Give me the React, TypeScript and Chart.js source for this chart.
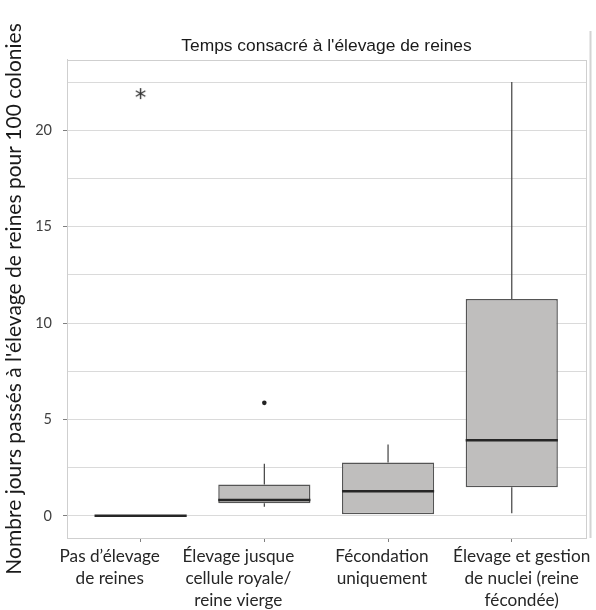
import React, { useEffect, useRef } from "react";
import { Chart, registerables } from "chart.js";

Chart.register(...registerables);

// ---- data ----
const CATEGORIES: string[][] = [
  ["Pas d’élevage", "de reines"],
  ["Élevage jusque", "cellule royale/", "reine vierge"],
  ["Fécondation", "uniquement"],
  ["Élevage et gestion", "de nuclei (reine", "fécondée)"],
];
const WHISKER_LOW = [0, 0.47, 0.08, 0.13];
const Q1 = [0, 0.65, 0.08, 1.48];
const MEDIAN = [0, 0.82, 1.27, 3.92];
const Q3 = [0, 1.62, 2.76, 11.25];
const WHISKER_HIGH = [0, 2.7, 3.7, 22.5];
const OUTLIER_STAR = [{ cat: 0, value: 21.9 }];
const OUTLIER_DOT = [{ cat: 1, value: 5.86 }];
const Y_TICKS = [0, 2.5, 5, 7.5, 10, 12.5, 15, 17.5, 20, 22.5];
const Y_LABELED = [0, 5, 10, 15, 20];

const TITLE = "Temps consacré à l'élevage de reines";
const Y_TITLE = "Nombre jours passés à l'élevage de reines pour 100 colonies";

// layout-only: horizontal offset of each category label (in category units)
const LABEL_SHIFT = [-0.25, -0.21, -0.05, 0.08];

function makeAsterisk(): HTMLCanvasElement {
  const c = document.createElement("canvas");
  c.width = 13;
  c.height = 13;
  const g = c.getContext("2d")!;
  g.strokeStyle = "#333333";
  g.lineWidth = 1.4;
  const r = 5.5;
  for (let k = 0; k < 3; k++) {
    const a = Math.PI / 2 + (k * Math.PI) / 3;
    g.beginPath();
    g.moveTo(6.5 - r * Math.cos(a), 6.5 - r * Math.sin(a));
    g.lineTo(6.5 + r * Math.cos(a), 6.5 + r * Math.sin(a));
    g.stroke();
  }
  return c;
}

const boxPlugin = {
  id: "boxWhiskers",
  afterDatasetsDraw(chart: any) {
    const meta = chart.getDatasetMeta(0);
    const y = chart.scales.y;
    const ctx = chart.ctx;
    ctx.save();
    meta.data.forEach((el: any, i: number) => {
      const x = el.x;
      const w = el.width;
      ctx.strokeStyle = "#404040";
      ctx.lineWidth = 1.2;
      if (WHISKER_HIGH[i] > Q3[i]) {
        ctx.beginPath();
        ctx.moveTo(x, y.getPixelForValue(Q3[i]));
        ctx.lineTo(x, y.getPixelForValue(WHISKER_HIGH[i]));
        ctx.stroke();
      }
      if (WHISKER_LOW[i] < Q1[i]) {
        ctx.beginPath();
        ctx.moveTo(x, y.getPixelForValue(Q1[i]));
        ctx.lineTo(x, y.getPixelForValue(WHISKER_LOW[i]));
        ctx.stroke();
      }
      ctx.strokeStyle = "#262626";
      ctx.lineWidth = 2.5;
      const my = y.getPixelForValue(MEDIAN[i]);
      ctx.beginPath();
      ctx.moveTo(x - w / 2, my);
      ctx.lineTo(x + w / 2, my);
      ctx.stroke();
    });
    ctx.restore();
  },
  beforeDatasetsDraw(chart: any) {
    const { ctx, chartArea } = chart;
    ctx.save();
    ctx.strokeStyle = "#cfcfcf";
    ctx.lineWidth = 1;
    ctx.strokeRect(
      Math.round(chartArea.left) + 0.5,
      Math.round(chartArea.top) + 0.5,
      Math.round(chartArea.right - chartArea.left),
      Math.round(chartArea.bottom - chartArea.top)
    );
    ctx.strokeStyle = "#d4d4d4";
    ctx.lineWidth = 2;
    ctx.beginPath();
    ctx.moveTo(chartArea.right + 4.5, chartArea.top - 29);
    ctx.lineTo(chartArea.right + 4.5, chartArea.bottom);
    ctx.stroke();
    ctx.restore();
  },
};

export default function App() {
  const ref = useRef<HTMLCanvasElement | null>(null);
  useEffect(() => {
    if (!ref.current) return;
    const chart = new Chart(ref.current, {
      type: "bar",
      data: {
        datasets: [
          {
            type: "bar",
            data: CATEGORIES.map((_, i) => ({ x: i, y: [Q1[i], Q3[i]] })) as any,
            backgroundColor: "#bfbebd",
            borderColor: "#555555",
            borderWidth: 1.5,
            borderSkipped: false,
            categoryPercentage: 1,
            barPercentage: 0.745,
            xAxisID: "x",
            yAxisID: "y",
          } as any,
          {
            type: "line",
            data: OUTLIER_STAR.map((o) => ({ x: o.cat, y: o.value })),
            showLine: false,
            pointStyle: makeAsterisk(),
            pointRadius: 6,
            xAxisID: "x",
            yAxisID: "y",
          } as any,
          {
            type: "line",
            data: OUTLIER_DOT.map((o) => ({ x: o.cat, y: o.value })),
            showLine: false,
            pointStyle: "circle",
            pointRadius: 2.3,
            backgroundColor: "#222222",
            borderColor: "#222222",
            borderWidth: 0,
            xAxisID: "x",
            yAxisID: "y",
          } as any,
        ],
      },
      options: {
        animation: false,
        responsive: false,
        devicePixelRatio: 1,
        layout: { padding: { left: 0, right: 10, top: 0, bottom: 0 } },
        plugins: {
          legend: { display: false },
          tooltip: { enabled: false },
          title: {
            display: true,
            text: TITLE,
            fullSize: false,
            color: "#1a1a1a",
            font: { family: "'Liberation Sans', Arial, sans-serif", size: 17.4, weight: "normal" },
            padding: { top: 36, bottom: 3 },
          },
        },
        scales: {
          x: {
            type: "linear",
            position: "bottom",
            offset: false,
            weight: 0,
            min: -0.595,
            max: 3.6,
            afterBuildTicks: (axis: any) => {
              axis.ticks = CATEGORIES.map((_, i) => ({ value: i }));
            },
            afterFit: (axis: any) => {
              axis.height = 4;
            },
            ticks: { display: false },
            grid: {
              offset: false,
              drawOnChartArea: false,
              drawTicks: true,
              tickLength: 4,
              tickColor: "#7f7f7f",
            },
            border: { color: "#cfcfcf" },
          },
          xl: {
            type: "linear",
            position: "bottom",
            offset: false,
            weight: 1,
            min: -0.595,
            max: 3.6,
            afterBuildTicks: (axis: any) => {
              axis.ticks = CATEGORIES.map((_, i) => ({ value: i + LABEL_SHIFT[i] }));
            },
            afterFit: (axis: any) => {
              axis.height = 68;
            },
            ticks: {
              autoSkip: false,
              maxRotation: 0,
              minRotation: 0,
              padding: 3,
              color: "#262626",
              font: { family: "Lato, 'Noto Sans', sans-serif", size: 17.2, lineHeight: 1.28 },
              callback: (_v: any, idx: number) => CATEGORIES[idx],
            },
            grid: { display: false, drawTicks: false, tickLength: 0, offset: false },
            border: { display: false },
          },
          y: {
            type: "linear",
            position: "left",
            min: -1.15,
            max: 23.65,
            afterBuildTicks: (axis: any) => {
              axis.ticks = Y_TICKS.map((v) => ({ value: v }));
            },
            afterFit: (axis: any) => {
              axis.width = 67;
            },
            ticks: {
              padding: 11,
              color: "#404040",
              font: { family: "Lato, 'Noto Sans', sans-serif", size: 14.5 },
              callback: (v: any) => (Y_LABELED.includes(Number(v)) ? String(v) : ""),
            },
            grid: {
              color: "#dadada",
              lineWidth: 1,
              tickLength: 4,
              tickColor: (c: any) =>
                c.tick && Y_LABELED.includes(c.tick.value) ? "#7f7f7f" : "rgba(0,0,0,0)",
            },
            border: { color: "#cfcfcf" },
            title: {
              display: true,
              text: Y_TITLE,
              color: "#1a1a1a",
              font: { family: "Lato, 'Noto Sans', sans-serif", size: 21 },
              padding: { top: 2, bottom: 0 },
            },
          },
        },
      } as any,
      plugins: [boxPlugin],
    });
    return () => chart.destroy();
  }, []);
  return (
    <div style={{ position: "absolute", left: 0, top: 0, width: 596, height: 610, background: "#ffffff" }}>
      <canvas ref={ref} width={596} height={610} style={{ width: 596, height: 610, display: "block" }} />
    </div>
  );
}
